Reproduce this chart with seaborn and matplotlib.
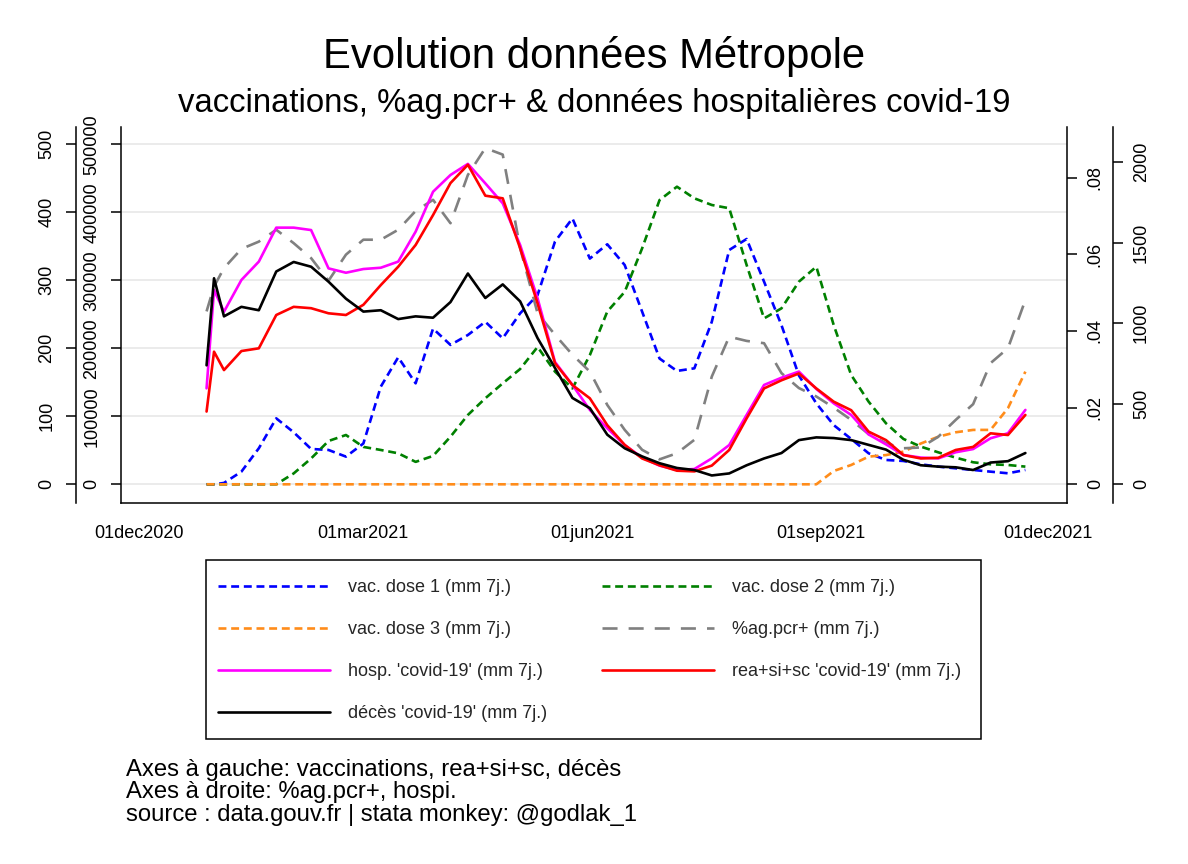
import matplotlib
matplotlib.use("Agg")
import matplotlib.pyplot as plt
from matplotlib.patches import Rectangle
import numpy as np
import pandas as pd
import seaborn as sns

# days since 28dec2020 (start of the series)
start_date = pd.Timestamp("2020-12-28")
day = [0, 3, 7, 14, 21, 28, 35, 42, 49, 56, 63, 70, 77, 84, 91, 98, 105,
       112, 119, 126, 133, 140, 147, 154, 161, 168, 175, 182, 189, 196, 203,
       210, 217, 224, 231, 238, 245, 252, 259, 266, 273, 280, 287, 294, 301,
       308, 315, 322, 329]

# vaccinations (left inner axis)
dose1 = [0, 0, 2000, 18600, 53000, 97000, 76500, 52000, 50500, 40700, 60000,
         143600, 186800, 148500, 229000, 205000, 219600, 239000, 214700,
         251500, 278400, 357000, 391000, 332000, 353000, 322500, 254000,
         185000, 166700, 170600, 239000, 344600, 360800, 298000, 234000,
         160000, 119000, 87000, 66700, 45600, 35800, 34300, 29400, 26000,
         23500, 21100, 18600, 16200, 21100]
dose2 = [0, 0, 0, 0, 0, 0, 16000, 38000, 63700, 72500, 55000, 50500, 45600,
         33000, 41700, 70000, 102000, 126500, 148500, 169600, 202000, 165700,
         141000, 190000, 254000, 283000, 347000, 418000, 437700, 420600,
         410800, 406000, 322500, 244000, 258800, 298000, 320000, 234000,
         160800, 121600, 89700, 66700, 55400, 47000, 39200, 32400, 29400,
         28400, 26000]
dose3 = [0] * 37 + [19600, 28400, 40700, 43000, 48000, 60000, 70000, 76500,
                    80000, 80000, 112000, 165700]

# positivity rate (right inner axis)
pcr_pos = [.0451, .0516, .0564, .0614, .0633, .0664, .0629, .0590, .0531,
           .0599, .0638, .0638, .0664, .0713, .0742, .0681, .0807, .0877,
           .0860, .0616, .0446, .0390, .0338, .0294, .0207, .0142, .0090,
           .0065, .0081, .0116, .0281, .0385, .0374, .0368, .0290, .0251,
           .0229, .0200, .0168, .0131, .0107, .0094, .0096, .0124, .0168,
           .0209, .0316, .0355, .0481]

# hospitalisations (right outer axis)
hosp = [596, 1207, 1072, 1269, 1383, 1594, 1594, 1579, 1341, 1314, 1337, 1345,
        1383, 1569, 1817, 1921, 1990, 1869, 1745, 1486, 1155, 760, 617, 462,
        348, 244, 166, 116, 89, 95, 161, 244, 431, 617, 662, 700, 592, 503,
        431, 310, 248, 182, 166, 161, 199, 219, 286, 317, 462]

# rea+si+sc and deaths (left outer axis)
rea = [107, 195, 168, 196, 200, 249, 261, 259, 251.5, 249, 264, 293, 320, 352,
       396, 443, 470, 424.5, 420.6, 347, 266, 178, 146, 126.5, 87, 58, 38, 28,
       20, 19, 27.5, 50.5, 97, 141, 153, 163, 141, 121.5, 109, 77.5, 65, 43,
       38, 39, 50.5, 55, 75, 72.5, 102]
deces = [175, 303, 247, 261, 256, 313, 327, 320, 298, 273, 254, 256, 243, 247,
         245, 268, 310, 274, 294, 269, 215, 171, 127, 112, 73, 53, 41, 31, 24,
         21, 13, 16, 28, 38, 46, 65, 69, 68, 65, 58, 51, 36, 28, 26, 25, 21,
         32, 34, 46]

xtick_dates = ["2020-12-01", "2021-03-01", "2021-06-01", "2021-09-01", "2021-12-01"]
xtick_labels = ["01dec2020", "01mar2021", "01jun2021", "01sep2021", "01dec2021"]

labels = {
    "dose1": "vac. dose 1 (mm 7j.)",
    "dose2": "vac. dose 2 (mm 7j.)",
    "dose3": "vac. dose 3 (mm 7j.)",
    "pcr": "%ag.pcr+ (mm 7j.)",
    "hosp": "hosp. 'covid-19' (mm 7j.)",
    "rea": "rea+si+sc 'covid-19' (mm 7j.)",
    "deces": "décès 'covid-19' (mm 7j.)",
}

dates = start_date + pd.to_timedelta(day, unit="D")

sns.set_theme(style="white")
plt.rcParams["font.family"] = ["Liberation Sans", "DejaVu Sans"]

W, H = 1188, 864
fig = plt.figure(figsize=(W / 100, H / 100), dpi=100)
fig.patch.set_facecolor("white")

# plot region in pixels: x 120.7..1066.7, y 127..503
ax_vac = fig.add_axes([120.7 / W, 1 - 503 / H, 946 / W, 376 / H])
ax_pcr = ax_vac.twinx()
ax_hosp = ax_vac.twinx()
ax_left = ax_vac.twinx()

lw = 1.9
short_dash = (0, (3.0, 1.8))
long_dash = (0, (5.7, 4.2))
handles = {}

sns.lineplot(x=dates, y=dose1, ax=ax_vac, color="#0000ff", lw=lw, linestyle=short_dash)
handles["dose1"] = ax_vac.lines[-1]
sns.lineplot(x=dates, y=dose2, ax=ax_vac, color="#008000", lw=lw, linestyle=short_dash)
handles["dose2"] = ax_vac.lines[-1]
sns.lineplot(x=dates, y=dose3, ax=ax_vac, color="#ff8c1a", lw=lw, linestyle=short_dash)
handles["dose3"] = ax_vac.lines[-1]
sns.lineplot(x=dates, y=pcr_pos, ax=ax_pcr, color="#808080", lw=lw, linestyle=long_dash)
handles["pcr"] = ax_pcr.lines[-1]
sns.lineplot(x=dates, y=hosp, ax=ax_hosp, color="#ff00ff", lw=lw)
handles["hosp"] = ax_hosp.lines[-1]
sns.lineplot(x=dates, y=rea, ax=ax_left, color="#ff0000", lw=lw)
handles["rea"] = ax_left.lines[-1]
sns.lineplot(x=dates, y=deces, ax=ax_left, color="black", lw=lw)
handles["deces"] = ax_left.lines[-1]

# shared x axis
x0 = pd.Timestamp("2020-12-01") - pd.Timedelta(days=7.5)
x1 = pd.Timestamp("2021-12-01") + pd.Timedelta(days=7.6)
ax_vac.set_xlim(x0, x1)
ax_vac.set_xticks(pd.to_datetime(xtick_dates))
ax_vac.set_xticklabels(xtick_labels)
ax_vac.tick_params(axis="x", length=8, width=1.1, labelsize=13, pad=8, colors="black")

# y axes, zeros aligned
ax_vac.set_ylim(-27500, 525500)
ax_left.set_ylim(-27.5, 525.5)
ax_pcr.set_ylim(-0.00488, 0.0932)
ax_hosp.set_ylim(-116, 2219)

ax_vac.set_yticks([0, 100000, 200000, 300000, 400000, 500000])
ax_vac.set_yticklabels(["0", "100000", "200000", "300000", "400000", "500000"])
ax_left.set_yticks([0, 100, 200, 300, 400, 500])
ax_left.set_yticklabels(["0", "100", "200", "300", "400", "500"])
ax_pcr.set_yticks([0, .02, .04, .06, .08])
ax_pcr.set_yticklabels(["0", ".02", ".04", ".06", ".08"])
ax_hosp.set_yticks([0, 500, 1000, 1500, 2000])
ax_hosp.set_yticklabels(["0", "500", "1000", "1500", "2000"])

ax_vac.yaxis.grid(True, color="#e8e8e8", lw=1.2)
ax_vac.xaxis.grid(False)
ax_vac.set_axisbelow(True)

for ax in (ax_vac, ax_pcr, ax_hosp, ax_left):
    ax.set_xlabel("")
    ax.set_ylabel("")
    for s in ax.spines.values():
        s.set_visible(False)
        s.set_linewidth(1.1)
        s.set_color("black")

ax_vac.spines["left"].set_visible(True)
ax_vac.spines["bottom"].set_visible(True)
ax_vac.yaxis.set_ticks_position("left")

ax_left.yaxis.set_ticks_position("left")
ax_left.yaxis.set_label_position("left")
ax_left.spines["left"].set_visible(True)
ax_left.spines["left"].set_position(("outward", 45 * 0.72))

ax_pcr.yaxis.set_ticks_position("right")
ax_pcr.spines["right"].set_visible(True)

ax_hosp.yaxis.set_ticks_position("right")
ax_hosp.spines["right"].set_visible(True)
ax_hosp.spines["right"].set_position(("outward", 46 * 0.72))

for ax in (ax_vac, ax_pcr, ax_hosp, ax_left):
    ax.tick_params(axis="y", length=7.5, width=1.1, labelsize=13, pad=7,
                   colors="black", labelrotation=90)
    for t in ax.get_yticklabels():
        t.set_verticalalignment("center")

# titles
fig.text(0.5, 1 - 68.3 / H, "Evolution données Métropole", ha="center",
         va="baseline", fontsize=30.2, color="black")
fig.text(0.5, 1 - 112.3 / H,
         "vaccinations, %ag.pcr+ & données hospitalières covid-19",
         ha="center", va="baseline", fontsize=23.7, color="black")

# legend (column-wise fill), box drawn separately
order = ["dose1", "dose3", "hosp", "deces", "dose2", "pcr", "rea"]
leg = fig.legend([handles[k] for k in order], [labels[k] for k in order],
                 ncol=2, loc="upper left",
                 bbox_to_anchor=(217.7 / W, 1 - 578.9 / H),
                 fontsize=13, handlelength=6.2, handletextpad=1.0,
                 labelspacing=1.395, columnspacing=3.05, borderpad=0,
                 borderaxespad=0, frameon=False)
fig.add_artist(Rectangle((206 / W, 1 - 739.3 / H), 775 / W, 179.3 / H,
                         transform=fig.transFigure, fill=False,
                         edgecolor="black", linewidth=1.1))

# notes
notes = ["Axes à gauche: vaccinations, rea+si+sc, décès",
         "Axes à droite: %ag.pcr+, hospi.",
         "source : data.gouv.fr | stata monkey: @godlak_1"]
for txt, yb in zip(notes, [775.7, 798.3, 820.7]):
    fig.text(126 / W, 1 - yb / H, txt, ha="left", va="baseline",
             fontsize=17.2, color="black")

fig.savefig("out.png", dpi=100, facecolor="white")
